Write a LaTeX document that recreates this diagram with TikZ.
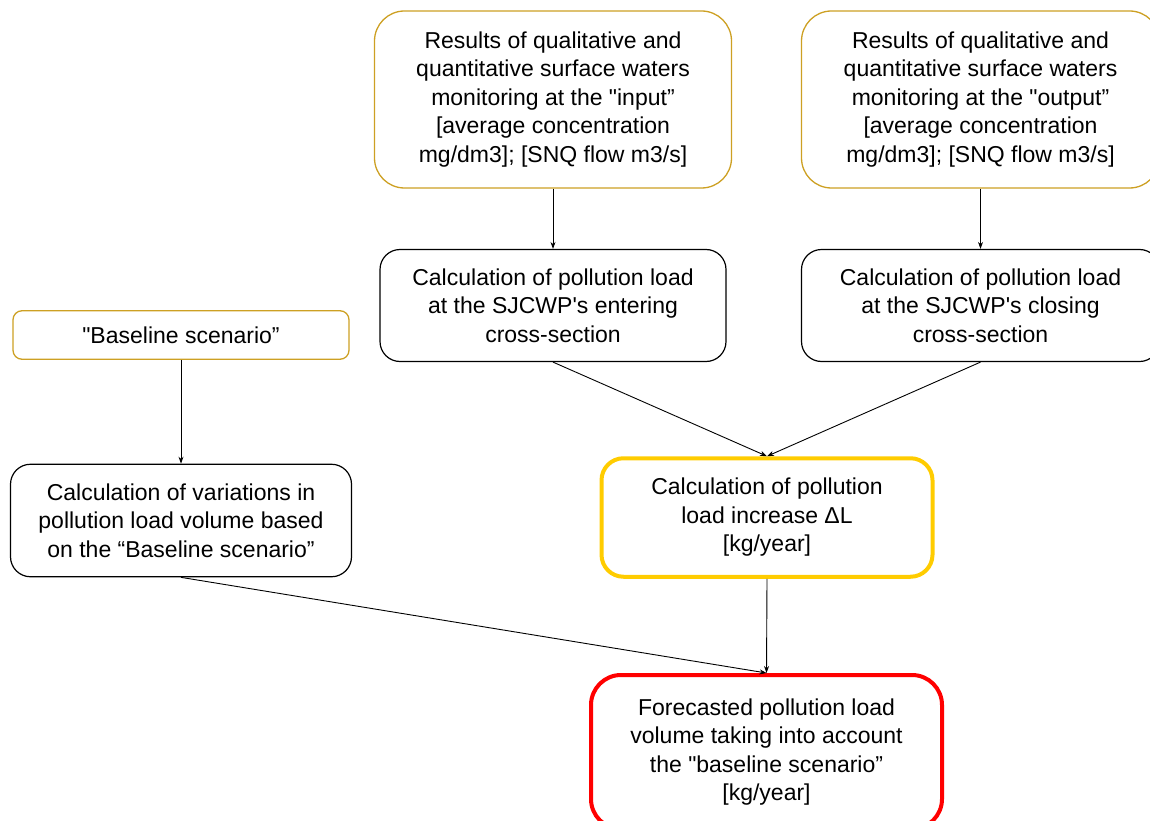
\documentclass[tikz,border=0pt]{standalone}
\usepackage{fontspec}
\setmainfont{Liberation Sans}[Ligatures=TeXOff]
\usetikzlibrary{arrows.meta}
\definecolor{gold}{RGB}{205,160,35}
\definecolor{amber}{RGB}{255,204,0}
\definecolor{alert}{RGB}{255,0,0}
\begin{document}
\begin{tikzpicture}[x=1pt,y=-1pt,
  every node/.style={font=\fontsize{23}{28.5}\selectfont, align=center, inner sep=0pt},
  box/.style={draw=black, line width=1.2pt, rounded corners=20pt},
  sourcebox/.style={draw=gold, line width=1.3pt, rounded corners=30pt},
  keybox/.style={draw=amber, line width=4pt, rounded corners=22pt},
  resultbox/.style={draw=alert, line width=4pt, rounded corners=30pt},
  flow/.style={line width=0.9pt, -{Stealth[length=7pt,width=5pt]}}]
\useasboundingbox (0,0) rectangle (1150,821);
\clip (0,0) rectangle (1150,821);

% monitoring inputs
\node[sourcebox, minimum width=357, minimum height=177] (inmon) at (553,99.5)
  {Results of qualitative and\\quantitative surface waters\\monitoring at the "input”\\{[}average concentration\\mg/dm3]; [SNQ flow m3/s]};
\node[sourcebox, minimum width=358, minimum height=177] (outmon) at (980.5,99.5)
  {Results of qualitative and\\quantitative surface waters\\monitoring at the "output”\\{[}average concentration\\mg/dm3]; [SNQ flow m3/s]};

% load calculations
\node[box, minimum width=346, minimum height=112] (inload) at (553,305.5)
  {Calculation of pollution load\\at the SJCWP's entering\\cross-section};
\node[box, minimum width=358, minimum height=112] (outload) at (980.5,305.5)
  {Calculation of pollution load\\at the SJCWP's closing\\cross-section};

% baseline branch
\node[sourcebox, rounded corners=9pt, minimum width=336, minimum height=48.5] (base) at (181,335)
  {"Baseline scenario”};
\node[box, minimum width=341, minimum height=112.5] (vary) at (181,520.5)
  {Calculation of variations in\\pollution load volume based\\on the “Baseline scenario”};

% increase and forecast
\node[keybox, minimum width=331, minimum height=118.5] (incr) at (767,517.5)
  {Calculation of pollution\\load increase ΔL\\{[}kg/year]};
\node[resultbox, minimum width=351, minimum height=154] (fcast) at (766.5,752)
  {Forecasted pollution load\\volume taking into account\\the "baseline scenario”\\{[}kg/year]};

% connectors
\draw[flow] (inmon.south) -- (inload.north);
\draw[flow] (outmon.south) -- (outload.north);
\draw[flow] (base.south) -- (vary.north);
\draw[flow] (inload.south) -- (incr.north);
\draw[flow] (outload.south) -- (incr.north);
\draw[flow] (incr.south) -- (fcast.north);
\draw[flow] (vary.south) -- (fcast.north);
\end{tikzpicture}
\end{document}
